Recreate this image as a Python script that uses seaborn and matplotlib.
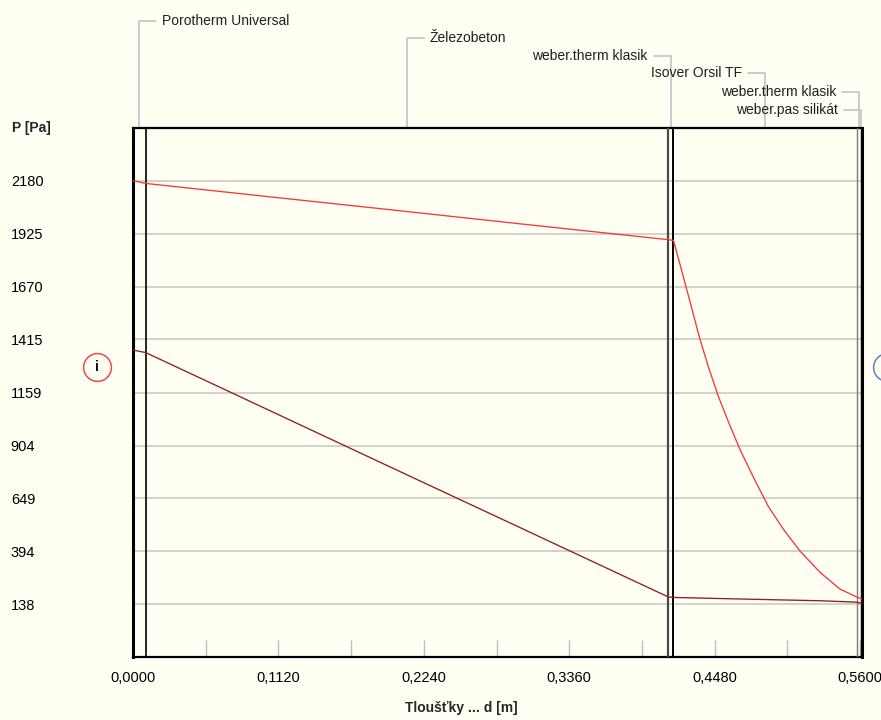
import numpy as np
import pandas as pd
import matplotlib
matplotlib.use("Agg")
import matplotlib.pyplot as plt
import seaborn as sns

# ---------------- data ----------------
d_sat = [0.0, 0.0097, 0.10, 0.20, 0.30, 0.4121, 0.4163, 0.4227, 0.4291, 0.4368,
         0.4432, 0.4509, 0.4586, 0.4676, 0.4778, 0.4894, 0.5009, 0.5138, 0.5292,
         0.5446, 0.5578, 0.5615]
p_sat = [2180, 2167, 2106, 2039, 1971, 1896, 1892, 1745, 1595, 1414,
         1283, 1140, 1018, 884, 752, 610, 501, 395, 293,
         212, 173, 165]

d_vap = [0.0, 0.0097, 0.10, 0.20, 0.30, 0.4121, 0.4163, 0.45, 0.50, 0.53, 0.5578, 0.5615]
p_vap = [1364, 1352, 1088, 795, 503, 175, 172, 167, 160, 156, 149, 143]

layer_names = ["Porotherm Universal", "Železobeton", "weber.therm klasik",
               "Isover Orsil TF", "weber.therm klasik", "weber.pas silikát"]
layer_bounds = [0.0, 0.0097, 0.4121, 0.4163, 0.5578, 0.5605, 0.5615]

y_ticks = [138, 394, 649, 904, 1159, 1415, 1670, 1925, 2180]
y_tick_labels = ["138", "394", "649", "904", "1159", "1415", "1670", "1925", "2180"]
x_ticks = [0.0, 0.056, 0.112, 0.168, 0.224, 0.280, 0.336, 0.392, 0.448, 0.504, 0.560]
x_tick_labels = ["0,0000", "", "0,1120", "", "0,2240", "", "0,3360", "", "0,4480", "", "0,5600"]

# ---------------- style ----------------
BG = "#FFFFF4"
RED = "#F03A3A"
DARKRED = "#8E1E1E"
GRID = "#D4D2CC"
LEADER = "#C4C4C4"

sns.set_theme(style="white")
plt.rcParams["font.family"] = ["Liberation Sans", "DejaVu Sans"]
plt.rcParams["font.size"] = 10

W, H = 881, 720
fig = plt.figure(figsize=(W / 100, H / 100), dpi=100, facecolor=BG)
L, R, T, B = 133, 862, 128, 657
ax = fig.add_axes([L / W, (H - B) / H, (R - L) / W, (B - T) / H])
ax.set_facecolor(BG)

df = pd.concat([
    pd.DataFrame({"d": d_sat, "p": p_sat, "s": "sat"}),
    pd.DataFrame({"d": d_vap, "p": p_vap, "s": "vap"}),
])
sns.lineplot(data=df, x="d", y="p", hue="s", palette={"sat": RED, "vap": DARKRED},
             sort=False, estimator=None, legend=False, linewidth=0.95, ax=ax, zorder=5)

ax.set_xlim(0, 0.5615)
ax.set_ylim(-115, 2434)

# grid
ax.set_yticks(y_ticks)
ax.set_yticklabels(y_tick_labels)
ax.yaxis.grid(True, color=GRID, linewidth=1.5)
ax.xaxis.grid(False)
ax.tick_params(axis="y", length=0, pad=88, labelsize=10.5, labelcolor="black")
for lab in ax.get_yticklabels():
    lab.set_horizontalalignment("left")

ax.set_xticks(x_ticks)
ax.set_xticklabels(x_tick_labels)
ax.tick_params(axis="x", direction="in", length=12, width=1, color="#BDBDBD",
               pad=10, labelsize=10.5, labelcolor="black", bottom=True)

# labels
ax.set_xlabel("Tloušťky ... d [m]", fontweight="bold", fontsize=10)
ax.xaxis.set_label_coords((461 - L) / (R - L), (B - 701) / (B - T))
ax.set_ylabel("P [Pa]", fontweight="bold", fontsize=10, rotation=0,
              ha="left", va="center")
ax.yaxis.set_label_coords((12 - L) / (R - L), 1.0)

# frame
for side, sp in ax.spines.items():
    sp.set_visible(True)
    sp.set_color("black")
    sp.set_linewidth(1.6)
ax.spines["left"].set_linewidth(2.2)
ax.spines["right"].set_linewidth(2.2)

# layer boundaries
bstyle = [("black", 1.2), ("#4A4A4A", 1.6), ("black", 1.4), ("#7A7A7A", 1.0), ("black", 1.0)]
for xb, (c, lw) in zip(layer_bounds[1:-1], bstyle):
    ax.axvline(xb, color=c, linewidth=lw, zorder=4)

# layer leaders and names
px = (R - L) / 0.5615  # pixels per metre
label_rows = [20.7, 38, 56, 73, 91.7, 110]
sides = ["left", "left", "right", "right", "right", "right"]
trans = ax.get_xaxis_transform()
for i, name in enumerate(layer_names):
    cx = (layer_bounds[i] + layer_bounds[i + 1]) / 2
    ya = (B - label_rows[i]) / (B - T)
    sgn = 1 if sides[i] == "left" else -1
    ax.plot([cx, cx, cx + sgn * 17 / px], [1.0, ya, ya], color=LEADER,
            linewidth=1.2, transform=trans, clip_on=False, zorder=1)
    ax.text(cx + sgn * 23 / px, ya, name, transform=trans, ha=sides[i],
            va="center", fontsize=10, color="#202020", clip_on=False)

# interior / exterior markers
ym = (B - 367) / (B - T)
xi = (97 - L) / (R - L)
xe = (887 - L) / (R - L)
ax.plot([xi], [ym], marker="o", markersize=20, markerfacecolor="none",
        markeredgecolor="#F04848", markeredgewidth=1.1, transform=ax.transAxes, clip_on=False)
ax.text(xi, ym, "i", transform=ax.transAxes, ha="center", va="center",
        fontsize=10, fontweight="bold", color="black", clip_on=False)
ax.plot([xe], [ym], marker="o", markersize=20, markerfacecolor="none",
        markeredgecolor="#5A7FC8", markeredgewidth=1.1, transform=ax.transAxes, clip_on=False)

fig.savefig("out.png", dpi=100, facecolor=BG)
